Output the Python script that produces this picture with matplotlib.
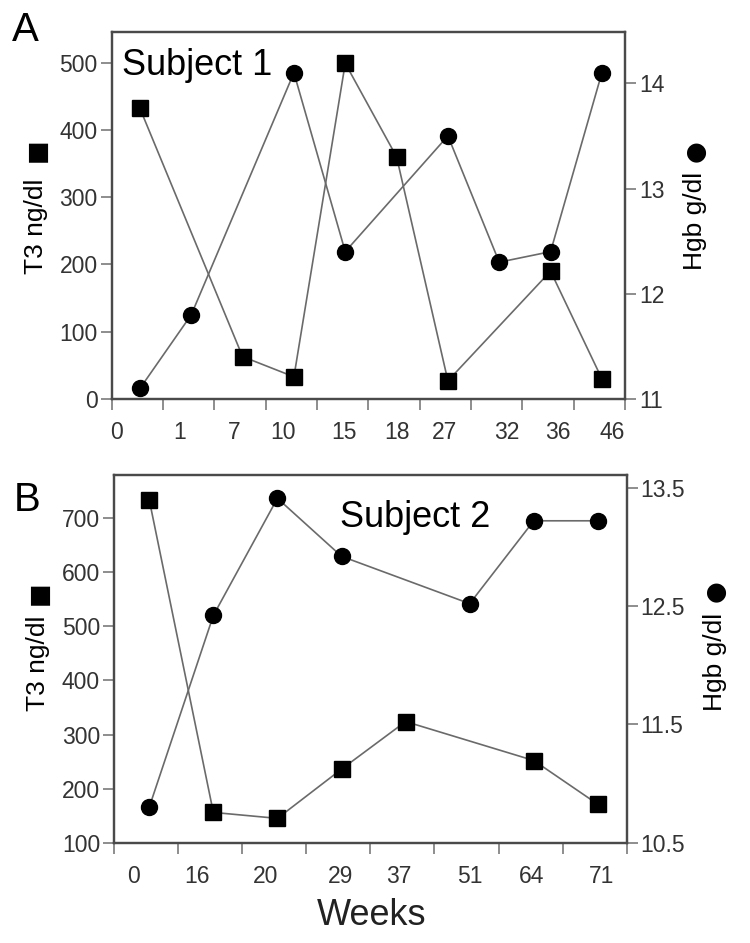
import matplotlib
matplotlib.use('Agg')
import matplotlib.pyplot as plt

plt.rcParams['font.family'] = ['Liberation Sans', 'DejaVu Sans']

# ---------------- data ----------------
# Panel A (Subject 1)
a_weeks = ['0', '1', '7', '10', '15', '18', '27', '32', '36', '46']
a_t3_weeks = ['0', '7', '10', '15', '18', '27', '36', '46']
a_t3 = [432, 63, 33, 499, 360, 27, 190, 30]
a_hgb_weeks = ['0', '1', '10', '15', '27', '32', '36', '46']
a_hgb = [11.1, 11.8, 14.1, 12.4, 13.5, 12.3, 12.4, 14.1]

# Panel B (Subject 2)
b_weeks = ['0', '16', '20', '29', '37', '51', '64', '71']
b_t3_weeks = ['0', '16', '20', '29', '37', '64', '71']
b_t3 = [734, 156, 145, 236, 324, 252, 171]
b_hgb_weeks = ['0', '16', '20', '29', '51', '64', '71']
b_hgb = [10.8, 12.42, 13.41, 12.92, 12.52, 13.22, 13.22]

# label positions (layout) in category units
a_label_pos = [0.10, 1.33, 2.38, 3.34, 4.53, 5.56, 6.49, 7.70, 8.69, 9.75]
b_label_pos = [0.30, 1.30, 2.36, 3.53, 4.45, 5.55, 6.52, 7.61]

W, H = 750, 943
fig = plt.figure(figsize=(W / 100, H / 100), dpi=100)

SPINE = '#4a4a4a'
TICK = '#7a7a7a'
LAB = '#333333'
LINE = '#6a6a6a'
OFF = 0.55


def panel(rect, cats, t3w, t3, hgbw, hgb, lpos, ylim_l, yt_l, ylim_r, yt_r, yt_r_lbl):
    ax = fig.add_axes(rect)
    ax2 = ax.twinx()
    xs_t3 = [cats.index(w) + OFF for w in t3w]
    xs_h = [cats.index(w) + OFF for w in hgbw]
    ax.plot(xs_t3, t3, color=LINE, lw=1.2, zorder=2)
    ax.plot(xs_t3, t3, ls='none', marker='s', ms=11.5, color='black', zorder=3)
    ax2.plot(xs_h, hgb, color=LINE, lw=1.2, zorder=2)
    ax2.plot(xs_h, hgb, ls='none', marker='o', ms=11.5, color='black', zorder=3)
    n = len(cats)
    ax.set_xlim(0, n)
    ax.set_ylim(*ylim_l)
    ax2.set_ylim(*ylim_r)
    ax.set_yticks(yt_l)
    ax2.set_yticks(yt_r)
    ax2.set_yticklabels(yt_r_lbl)
    ax.set_xticks(lpos)
    ax.set_xticklabels(cats)
    ax.set_xticks(range(n + 1), minor=True)
    ax.tick_params(axis='x', which='major', length=0, pad=16, labelsize=16.5, labelcolor=LAB)
    ax.tick_params(axis='x', which='minor', length=8, width=1.2, color=TICK)
    ax.tick_params(axis='y', length=8, width=1.2, color=TICK, labelsize=16.5, labelcolor=LAB, pad=2)
    ax2.tick_params(axis='y', length=8, width=1.2, color=TICK, labelsize=16.5, labelcolor=LAB, pad=2)
    for a in (ax, ax2):
        for s in a.spines.values():
            s.set_color(SPINE)
            s.set_linewidth(1.6)
    return ax, ax2


panel([111.7 / W, 1 - 399 / H, 513.3 / W, 367.3 / H], a_weeks, a_t3_weeks, a_t3, a_hgb_weeks, a_hgb,
      a_label_pos, (0, 546), [0, 100, 200, 300, 400, 500], (11, 14.49), [11, 12, 13, 14],
      ['11', '12', '13', '14'])
panel([114 / W, 1 - 842.7 / H, 512.7 / W, 367.7 / H], b_weeks, b_t3_weeks, b_t3, b_hgb_weeks, b_hgb,
      b_label_pos, (100, 780), [100, 200, 300, 400, 500, 600, 700], (10.5, 13.607), [10.5, 11.5, 12.5, 13.5],
      ['10.5', '11.5', '12.5', '13.5'])


def ftxt(x, y, s, **kw):
    fig.text(x / W, 1 - y / H, s, **kw)


ftxt(12, 41, 'A', fontsize=29, va='baseline', ha='left')
ftxt(14, 511, 'B', fontsize=29, va='baseline', ha='left')
ftxt(122, 75, 'Subject 1', fontsize=26, va='baseline', ha='left')
ftxt(340, 527, 'Subject 2', fontsize=26, va='baseline', ha='left')
ftxt(372, 925, 'Weeks', fontsize=26, va='baseline', ha='center', color='#222222')

# axis titles: (x, text-centre y, symbol-centre y)
left_lab = [(36, 226, 150), (38, 663, 593)]
right_lab = [(695, 221, 151), (715, 662, 591)]
for x, yt, ys in left_lab:
    ftxt(x, yt, 'T3 ng/dl', fontsize=19, rotation=90, ha='center', va='center')
    ftxt(x + 1, ys, '\u25A0', fontsize=18, rotation=90, ha='center', va='center', family='DejaVu Sans')
for x, yt, ys in right_lab:
    ftxt(x, yt, 'Hgb g/dl', fontsize=19, rotation=90, ha='center', va='center')
    ftxt(x + 1, ys, '\u25CF', fontsize=18, rotation=90, ha='center', va='center', family='DejaVu Sans')

fig.savefig('out.png', dpi=100)
